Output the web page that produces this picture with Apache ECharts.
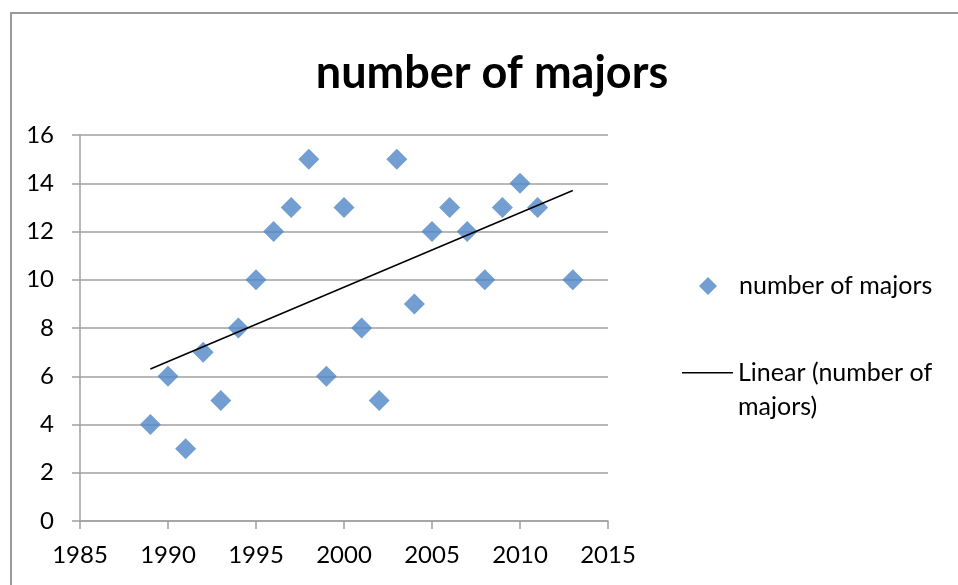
<!DOCTYPE html>
<html><head><meta charset="utf-8">
<script src="https://cdn.jsdelivr.net/npm/echarts@6/dist/echarts.min.js"></script>
<style>html,body{margin:0;padding:0;background:#fff}#c{width:958px;height:585px}</style>
</head><body><div id="c"></div>
<script>
const years = [1989,1990,1991,1992,1993,1994,1995,1996,1997,1998,1999,2000,2001,2002,2003,2004,2005,2006,2007,2008,2009,2010,2011,2013];
const majors = [4,6,3,7,5,8,10,12,13,15,6,13,8,5,15,9,12,13,12,10,13,14,13,10];
const trendYears = [1989, 2013];
const trendValues = [6.3, 13.7];
const xTicks = {min:1985, max:2015, interval:5};
const yTicks = {min:0, max:16, interval:2};

const FONT = 'Lato';
const chart = echarts.init(document.getElementById('c'));
chart.setOption({
  animation:false,
  textStyle:{fontFamily:FONT},
  title:{text:'number of majors', left:487, top:46, textAlign:'center',
    textStyle:{fontFamily:FONT, fontWeight:'bold', fontSize:45, color:'#000'}},
  graphic:[{type:'rect', shape:{x:11, y:13, width:1000, height:1000}, style:{fill:'none', stroke:'#9a9a9a', lineWidth:2}, silent:true, z:-1}],
  legend:[
    {data:[{name:'number of majors', icon:'path://M26,0 L35,9 L26,18 L17,9 Z M0,9 L0.01,9 L0,9.01 Z M52,9 L51.99,9 L52,9.01 Z'}],
      left:682, top:272, padding:0, itemWidth:52, itemHeight:18, symbolKeepAspect:false, selectedMode:false,
      textStyle:{fontFamily:FONT, fontSize:25, color:'#000', lineHeight:28}},
    {data:[{name:'Linear (number of majors)', icon:'path://M0,0 L51,0 L51,1.6 L0,1.6 Z M0,36 L0.01,36 L0,36.01 Z'}],
      left:682, top:356, padding:0, itemWidth:51, itemHeight:36, symbolKeepAspect:false, selectedMode:false,
      formatter:()=>'Linear (number of\nmajors)',
      textStyle:{fontFamily:FONT, fontSize:25, color:'#000', lineHeight:34}}
  ],
  grid:{left:80, right:350, top:135, bottom:64, containLabel:false},
  xAxis:{type:'value', min:xTicks.min, max:xTicks.max, interval:xTicks.interval,
    axisLine:{show:true, onZero:false, lineStyle:{color:'#a0a0a0', width:1.5}},
    axisTick:{show:true, inside:false, length:8, lineStyle:{color:'#a0a0a0', width:1.5}},
    splitLine:{show:false},
    axisLabel:{fontFamily:FONT, fontSize:24, color:'#000', margin:22, formatter:v=>String(v)}},
  yAxis:{type:'value', min:yTicks.min, max:yTicks.max, interval:yTicks.interval,
    axisLine:{show:true, lineStyle:{color:'#a0a0a0', width:1.5}},
    axisTick:{show:true, inside:false, length:8, lineStyle:{color:'#a0a0a0', width:1.5}},
    splitLine:{show:true, lineStyle:{color:'#a0a0a0', width:1.5}},
    axisLabel:{fontFamily:FONT, fontSize:24, color:'#000', margin:26}},
  series:[
    {name:'number of majors', type:'scatter', symbol:'diamond', symbolSize:21,
      itemStyle:{color:'#4F86C6'},
      data: years.map((y,i)=>[y, majors[i]]), z:3},
    {name:'Linear (number of majors)', type:'line', symbol:'none', showSymbol:false,
      lineStyle:{color:'#000', width:1.5}, itemStyle:{color:'#000'},
      data: trendYears.map((y,i)=>[y, trendValues[i]]), z:4}
  ]
});
</script></body></html>
